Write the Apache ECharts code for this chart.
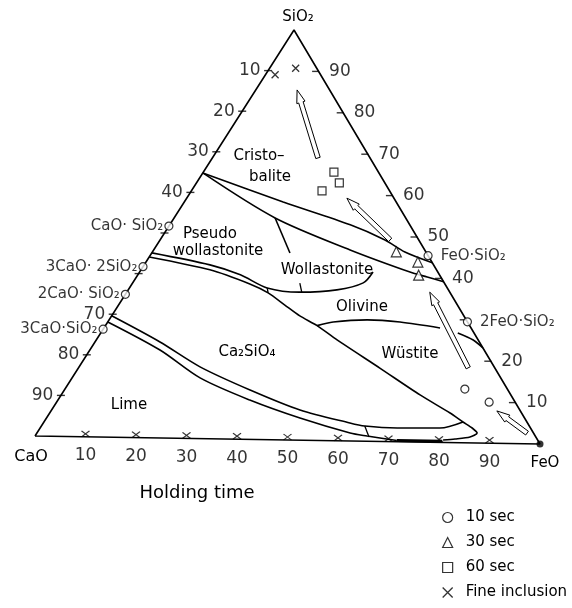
<!DOCTYPE html>
<html><head><meta charset="utf-8">
<script src="https://cdn.jsdelivr.net/npm/echarts@6/dist/echarts.min.js"></script>
<style>html,body{margin:0;padding:0;background:#fff}#c{width:572px;height:608px}</style>
</head><body><div id="c"></div>
<script>
// Compositions are [FeO wt%, SiO2 wt%]; CaO = 100 - FeO - SiO2
const tickValues = [10, 20, 30, 40, 50, 60, 70, 80, 90];
const caoTickLabels = [10, 20, 30, 40, 70, 80, 90];      // CaO % on CaO–SiO2 side
const sio2TickLabels = [90, 80, 70, 60, 50, 40, 20, 10];  // SiO2 % on SiO2–FeO side
const feoTickLabels = [10, 20, 30, 40, 50, 60, 70, 80, 90]; // FeO % on CaO–FeO side

const compoundsCaO = [['CaO· SiO₂', 0, 51.7], ['3CaO· 2SiO₂', 0, 41.7], ['2CaO· SiO₂', 0, 34.9], ['3CaO·SiO₂', 0, 26.3]];
const compoundsFeO = [['FeO·SiO₂', 54.5, 45.5], ['2FeO·SiO₂', 70.5, 29.5]];

const sec10 = [[78.4, 13.1], [84.8, 10.0]];
const sec30 = [[47.8, 46.3], [53.3, 43.9], [55.1, 40.7]];
const sec60 = [[25.6, 65.5], [28.0, 62.9], [25.6, 60.9]];
const fineInclusion = [[5.1, 90.7], [1.9, 89.0]];

// [tail FeO, tail SiO2, head FeO, head SiO2]
const arrows = [[20.7, 68.9, 8.1, 85.4], [45.1, 49.2, 31.4, 59.2], [76.4, 18.3, 59.4, 36.6], [96.1, 2.6, 87.4, 7.9]];

// phase boundaries
const cristobaliteBoundary = [[0, 64.8], [19.4, 58.0], [35.4, 52.7], [44.1, 49.15], [49.5, 46.3], [56.2, 43.8]];
const wollastoniteUpper = [[0, 64.8], [19.8, 54.1], [38.5, 46.6], [53.7, 41.2], [57.0, 40.3], [60.8, 39.2]];
const wollastoniteBranch = [[19.8, 54.1], [27.1, 45.6]];
const pseudoLower = [[0, 45.1], [12.9, 42.4], [20.1, 40.1], [27.0, 37.0], [33.9, 36.1], [40.9, 36.8], [45.2, 38.6], [45.75, 41.3]];
const wollastoniteTick = [[32.8, 38.3], [34.3, 36.1]];
const pseudoTick = [[27.0, 37.0], [27.8, 35.8]];
const ca2sio4Upper = [[0, 44.1], [13.5, 41.2], [23.1, 37.9], [27.8, 35.8], [32.6, 32.9], [36.9, 30.3], [41.5, 28.0], [47.2, 24.6], [59.1, 17.9], [70.35, 11.5], [78.5, 7.2], [82.15, 5.07], [84.7, 3.64], [86.3, 2.44], [85.4, 1.44], [82.7, 0.89], [80.5, 0.6]];
const olivineWustite = [[41.5, 28.0], [44.2, 28.95], [50.6, 29.6], [57.3, 29.2], [65.9, 27.9]];
const fayaliteBoundary = [[70.0, 26.75], [73.9, 25.1], [76.8, 23.2]];
const limeUpper = [[0, 29.6], [12.75, 23.4], [23.7, 17.5], [36.4, 12.05], [48.7, 7.36], [60.1, 4.39], [63.4, 3.71], [70.0, 3.35], [78.4, 3.5], [82.15, 5.07]];
const limeLower = [[0, 28.1], [13.75, 21.45], [25.1, 14.8], [37.6, 9.6], [49.7, 5.4], [61.4, 1.95], [65.1, 1.28], [71.5, 0.3]];
const limeTick = [[63.4, 3.71], [65.6, 1.05]];
const bottomThick = [[71.5, 0.3], [80.5, 0.3]];

// ---- layout ----
const V = { CaO: [35, 436], FeO: [540, 444], SiO2: [294, 30] };
const FONT = 'DejaVu Sans';
function tern(p) {
  const f = p[0] / 100, s = p[1] / 100;
  return [V.CaO[0] + f * (V.FeO[0] - V.CaO[0]) + s * (V.SiO2[0] - V.CaO[0]),
          V.CaO[1] + f * (V.FeO[1] - V.CaO[1]) + s * (V.SiO2[1] - V.CaO[1])];
}
const hollow = { color: '#fff', borderColor: '#000', borderWidth: 1.2 };
const CROSS = 'path://M0,0L10,10M10,0L0,10';

function lineS(pts, opt) {
  return Object.assign({ type: 'line', data: pts.map(tern), symbol: 'none', smooth: 0.3, silent: true, z: 2,
    lineStyle: { color: '#000', width: 1.6 } }, opt || {});
}
function labelS(pts, texts, pos, dist, size) {
  return { type: 'scatter', silent: true, z: 6, symbolSize: 1, itemStyle: { color: 'transparent' },
    data: pts.map((p, i) => ({ value: tern(p), name: String(texts[i]) })),
    label: { show: true, position: pos, distance: dist, formatter: '{b}', color: '#000', fontFamily: FONT, fontSize: size } };
}

const chart = echarts.init(document.getElementById('c'));
chart.setOption({
  animation: false,
  backgroundColor: '#fff',
  grid: { left: 0, right: 0, top: 0, bottom: 0 },
  xAxis: { type: 'value', min: 0, max: 572, show: false },
  yAxis: { type: 'value', min: 0, max: 608, inverse: true, show: false },
  legend: {
    orient: 'vertical', left: 437, top: 505, itemGap: 10, itemWidth: 10, itemHeight: 10,
    textStyle: { fontFamily: FONT, fontSize: 15, color: '#000', padding: [0, 0, 0, 8] },
    data: [
      { name: '10 sec', icon: 'circle', itemStyle: hollow },
      { name: '30 sec', icon: 'triangle', itemStyle: hollow },
      { name: '60 sec', icon: 'rect', itemStyle: hollow },
      { name: 'Fine inclusion', icon: CROSS, itemStyle: { color: 'transparent', borderColor: '#000', borderWidth: 1.3 } }
    ]
  },
  graphic: [
    ['SiO₂', 298, 17, 15], ['CaO', 31, 457, 16], ['FeO', 545, 463, 15],
    ['Cristo–', 259, 156, 15], ['balite', 270, 177, 15],
    ['Pseudo', 210, 234, 15], ['wollastonite', 218, 251, 15],
    ['Wollastonite', 327, 270, 15], ['Olivine', 362, 307, 15], ['Wüstite', 410, 354, 15],
    ['Ca₂SiO₄', 247, 352, 15], ['Lime', 129, 405, 15], ['Holding time', 197, 493, 18]
  ].map(t => ({ type: 'text', silent: true, z: 10,
    style: { text: t[0], x: t[1], y: t[2], fill: '#000', font: t[3] + 'px "' + FONT + '"', align: 'center', verticalAlign: 'middle' } })),
  series: [
    // triangle edges
    lineS([[0, 0], [100, 0], [0, 100], [0, 0]], { smooth: false, lineStyle: { color: '#000', width: 1.6 } }),
    // phase boundaries
    lineS(cristobaliteBoundary),
    lineS(wollastoniteUpper),
    lineS(wollastoniteBranch, { smooth: false }),
    lineS(pseudoLower),
    lineS(wollastoniteTick, { smooth: false, lineStyle: { color: '#000', width: 1.3 } }),
    lineS(pseudoTick, { smooth: false, lineStyle: { color: '#000', width: 1.3 } }),
    lineS(ca2sio4Upper, { smooth: 0.25 }),
    lineS(olivineWustite),
    lineS(fayaliteBoundary),
    lineS(limeUpper),
    lineS(limeLower),
    lineS(limeTick, { smooth: false, lineStyle: { color: '#000', width: 1.3 } }),
    lineS(bottomThick, { smooth: false, lineStyle: { color: '#000', width: 3 } }),
    // ticks
    { type: 'scatter', silent: true, z: 3, symbol: 'rect', symbolSize: [8, 1.4], itemStyle: { color: '#000' },
      data: tickValues.map(v => tern([0, 100 - v])) },
    { type: 'scatter', silent: true, z: 3, symbol: 'rect', symbolSize: [7, 1.4], symbolOffset: [-3, 0], itemStyle: { color: '#000' },
      data: tickValues.map(v => tern([100 - v, v])) },
    { type: 'scatter', silent: true, z: 3, symbol: CROSS, symbolSize: [8, 6], symbolOffset: [0, -3],
      itemStyle: { color: 'transparent', borderColor: '#000', borderWidth: 1.2 },
      data: tickValues.map(v => tern([v, 0])) },
    // tick labels
    labelS(caoTickLabels.map(v => [0, 100 - v]), caoTickLabels, 'left', 7, 17),
    labelS(sio2TickLabels.map(v => [100 - v, v]), sio2TickLabels, 'right', 10, 17),
    labelS(feoTickLabels.map(v => [v, 0]), feoTickLabels, 'bottom', 10, 17),
    // arrows
    { type: 'custom', coordinateSystem: 'cartesian2d', silent: true, z: 4,
      data: arrows.map(a => tern([a[0], a[1]]).concat(tern([a[2], a[3]]))),
      encode: { x: [0, 2], y: [1, 3] },
      renderItem: function (params, api) {
        const t = api.coord([api.value(0), api.value(1)]);
        const h = api.coord([api.value(2), api.value(3)]);
        const dx = h[0] - t[0], dy = h[1] - t[1], L = Math.hypot(dx, dy);
        const ux = dx / L, uy = dy / L, nx = -uy, ny = ux;
        const w = 2.3, hw = 4.3, hl = 13;
        const b = [h[0] - ux * hl, h[1] - uy * hl];
        const pts = [[t[0] + nx * w, t[1] + ny * w], [b[0] + nx * w, b[1] + ny * w], [b[0] + nx * hw, b[1] + ny * hw], h,
          [b[0] - nx * hw, b[1] - ny * hw], [b[0] - nx * w, b[1] - ny * w], [t[0] - nx * w, t[1] - ny * w]];
        return { type: 'polygon', shape: { points: pts }, style: { fill: '#fff', stroke: '#000', lineWidth: 1 } };
      } },
    // compounds
    { type: 'scatter', silent: true, z: 5, symbol: 'circle', symbolSize: 8, itemStyle: hollow,
      data: compoundsCaO.map(c => ({ value: tern([c[1], c[2]]), name: c[0] })),
      label: { show: true, position: 'left', distance: 1, formatter: '{b}', color: '#000', fontFamily: FONT, fontSize: 15 } },
    { type: 'scatter', silent: true, z: 5, symbol: 'circle', symbolSize: 8, itemStyle: hollow,
      data: compoundsFeO.map(c => ({ value: tern([c[1], c[2]]), name: c[0] })),
      label: { show: true, position: 'right', distance: 8, formatter: '{b}', color: '#000', fontFamily: FONT, fontSize: 15 } },
    // FeO vertex dot
    { type: 'scatter', silent: true, z: 5, symbol: 'circle', symbolSize: 7, itemStyle: { color: '#000' }, data: [tern([100, 0])] },
    // experimental points
    { type: 'scatter', name: '10 sec', z: 5, symbol: 'circle', symbolSize: 8, itemStyle: hollow, data: sec10.map(tern) },
    { type: 'scatter', name: '30 sec', z: 5, symbol: 'triangle', symbolSize: 10, itemStyle: hollow, data: sec30.map(tern) },
    { type: 'scatter', name: '60 sec', z: 5, symbol: 'rect', symbolSize: 8, itemStyle: hollow, data: sec60.map(tern) },
    { type: 'scatter', name: 'Fine inclusion', z: 5, symbol: CROSS, symbolSize: 7,
      itemStyle: { color: 'transparent', borderColor: '#000', borderWidth: 1.3 }, data: fineInclusion.map(tern) }
  ]
});
</script></body></html>
